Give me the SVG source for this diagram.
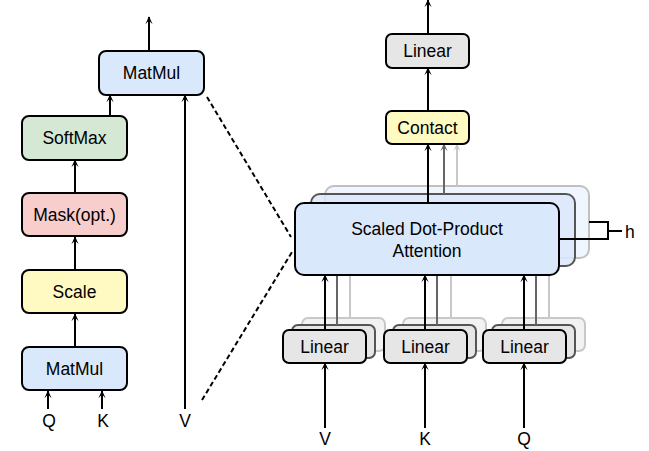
<svg xmlns="http://www.w3.org/2000/svg" width="649" height="451" viewBox="0 0 649 451">
<style>
text{font-family:"Liberation Sans",Arial,sans-serif;font-size:17.5px;fill:#000;text-anchor:middle}
.box{stroke:#000;stroke-width:2}
.blue{fill:#dae8fc}.green{fill:#d5e8d4}.red{fill:#f8cecc}.yellow{fill:#fff9c2}.grey{fill:#e6e6e6}
.l{stroke:#000;stroke-width:2;fill:none}
.g1{stroke:#666;stroke-width:2;fill:none}
.g2{stroke:#c8c8c8;stroke-width:2;fill:none}
.dash{stroke:#000;stroke-width:2;stroke-dasharray:5 3;fill:none}
</style>
<defs>
<marker id="a" viewBox="0 0 10 10" refX="9" refY="5" markerWidth="8" markerHeight="8" markerUnits="userSpaceOnUse" orient="auto"><path d="M0,0.5 L10,5 L0,9.5 L4.5,5 z" fill="#000"/></marker>
<marker id="a1" viewBox="0 0 10 10" refX="9" refY="5" markerWidth="8" markerHeight="8" markerUnits="userSpaceOnUse" orient="auto"><path d="M0,0.5 L10,5 L0,9.5 L4.5,5 z" fill="#666"/></marker>
<marker id="a2" viewBox="0 0 10 10" refX="9" refY="5" markerWidth="8" markerHeight="8" markerUnits="userSpaceOnUse" orient="auto"><path d="M0,0.5 L10,5 L0,9.5 L4.5,5 z" fill="#c8c8c8"/></marker>
</defs>

<!-- background stacked copies -->
<g id="attention-copies">
<rect x="325" y="186" width="264" height="72" rx="9" fill="#dae8fc" fill-opacity="0.4" stroke="#c0c0c0" stroke-width="2"/>
<rect x="311" y="194" width="264" height="72" rx="9" fill="#dae8fc" fill-opacity="0.85" stroke="#555" stroke-width="2"/>
</g>
<g id="linear-copies">
<rect x="302" y="318" width="83" height="33" rx="6" fill="#f2f2f2" stroke="#c8c8c8" stroke-width="2"/>
<rect x="292" y="325" width="83" height="33" rx="6" fill="#e6e6e6" stroke="#555" stroke-width="2"/>
<rect x="403" y="318" width="83" height="33" rx="6" fill="#f2f2f2" stroke="#c8c8c8" stroke-width="2"/>
<rect x="393" y="325" width="83" height="33" rx="6" fill="#e6e6e6" stroke="#555" stroke-width="2"/>
<rect x="502" y="318" width="83" height="33" rx="6" fill="#f2f2f2" stroke="#c8c8c8" stroke-width="2"/>
<rect x="492" y="325" width="83" height="33" rx="6" fill="#e6e6e6" stroke="#555" stroke-width="2"/>
</g>

<g id="connectors">
<!-- left -->
<line class="l" x1="149" y1="51" x2="149" y2="17" marker-end="url(#a)"/>
<line class="l" x1="110" y1="116" x2="110" y2="95" marker-end="url(#a)"/>
<line class="l" x1="75" y1="193" x2="75" y2="160" marker-end="url(#a)"/>
<line class="l" x1="75" y1="270" x2="75" y2="237" marker-end="url(#a)"/>
<line class="l" x1="75" y1="347" x2="75" y2="314" marker-end="url(#a)"/>
<line class="l" x1="48" y1="409" x2="48" y2="391" marker-end="url(#a)"/>
<line class="l" x1="102" y1="409" x2="102" y2="391" marker-end="url(#a)"/>
<line class="l" x1="185" y1="409" x2="185" y2="95" marker-end="url(#a)"/>
<line class="dash" x1="207" y1="97" x2="291" y2="237"/>
<line class="dash" x1="202" y1="400" x2="292" y2="252"/>
<!-- right top -->
<line class="l" x1="428" y1="34" x2="428" y2="0" marker-end="url(#a)"/>
<line class="l" x1="428" y1="111" x2="428" y2="68" marker-end="url(#a)"/>
<line class="g2" x1="457" y1="186" x2="457" y2="144" marker-end="url(#a2)"/>
<line class="g1" x1="444" y1="194" x2="444" y2="144" marker-end="url(#a1)"/>
<line class="l" x1="428" y1="203" x2="428" y2="144" marker-end="url(#a)"/>
<!-- grey feeds from linear copies -->
<line class="g2" x1="350" y1="318" x2="350" y2="258"/>
<line class="g2" x1="451" y1="318" x2="451" y2="258"/>
<line class="g2" x1="549" y1="318" x2="549" y2="258"/>
<line class="g1" x1="337" y1="325" x2="337" y2="266"/>
<line class="g1" x1="437" y1="325" x2="437" y2="266"/>
<line class="g1" x1="536" y1="325" x2="536" y2="266"/>
<!-- h bracket -->
<polyline class="l" points="589,222 608,222 608,239 559,239"/>
<line class="l" x1="608" y1="231" x2="622" y2="231"/>
</g>

<!-- left nodes -->
<g id="matmul-top"><rect class="box blue" x="99" y="51" width="105" height="44" rx="7"/><text x="151.5" y="79">MatMul</text></g>
<g id="softmax"><rect class="box green" x="22" y="116" width="105" height="44" rx="7"/><text x="74.5" y="144">SoftMax</text></g>
<g id="mask"><rect class="box red" x="22" y="193" width="105" height="43" rx="7"/><text x="74.5" y="221">Mask(opt.)</text></g>
<g id="scale"><rect class="box yellow" x="22" y="270" width="105" height="43" rx="7"/><text x="74.5" y="298">Scale</text></g>
<g id="matmul-bottom"><rect class="box blue" x="22" y="347" width="105" height="43" rx="7"/><text x="74.5" y="375">MatMul</text></g>
<g id="labels-left"><text x="49" y="427">Q</text><text x="103" y="427">K</text><text x="185" y="427">V</text></g>

<!-- right nodes -->
<g id="linear-out"><rect class="box grey" x="386" y="34" width="83" height="34" rx="6"/><text x="427.5" y="57">Linear</text></g>
<g id="contact"><rect class="box yellow" x="386" y="111" width="83" height="33" rx="6"/><text x="427.5" y="133.5">Contact</text></g>
<g id="attention"><rect class="box blue" x="295" y="203" width="264" height="72" rx="9"/><text x="427" y="235">Scaled Dot-Product</text><text x="427" y="257">Attention</text></g>
<g id="h-label"><text x="625" y="238" style="text-anchor:start">h</text></g>

<g id="input-connectors">
<line class="l" x1="325" y1="330" x2="325" y2="275" marker-end="url(#a)"/>
<line class="l" x1="425" y1="330" x2="425" y2="275" marker-end="url(#a)"/>
<line class="l" x1="524" y1="330" x2="524" y2="275" marker-end="url(#a)"/>
<line class="l" x1="325" y1="428" x2="325" y2="363" marker-end="url(#a)"/>
<line class="l" x1="425" y1="428" x2="425" y2="363" marker-end="url(#a)"/>
<line class="l" x1="524" y1="428" x2="524" y2="363" marker-end="url(#a)"/>
</g>

<g id="linear-v"><rect class="box grey" x="283" y="330" width="83" height="33" rx="6"/><text x="324.5" y="353">Linear</text></g>
<g id="linear-k"><rect class="box grey" x="384" y="330" width="83" height="33" rx="6"/><text x="425.5" y="353">Linear</text></g>
<g id="linear-q"><rect class="box grey" x="483" y="330" width="83" height="33" rx="6"/><text x="524.5" y="353">Linear</text></g>
<g id="labels-right"><text x="325" y="445">V</text><text x="425" y="445">K</text><text x="524" y="445">Q</text></g>
</svg>
